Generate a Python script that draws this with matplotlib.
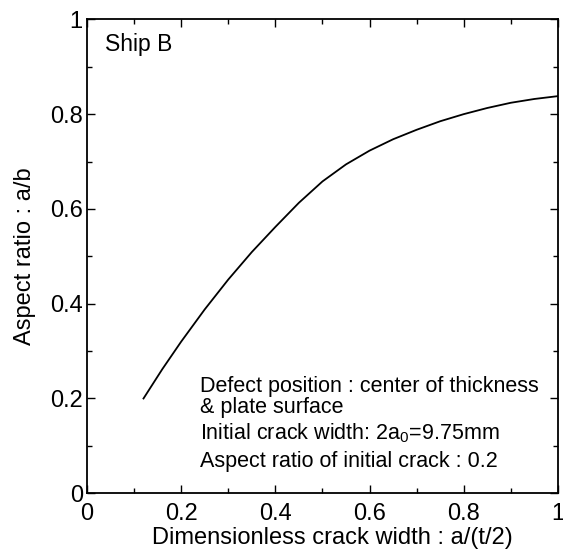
import matplotlib.pyplot as plt
from matplotlib.ticker import MultipleLocator, FuncFormatter

# aspect ratio growth of the crack, Ship B
crack_width = [0.12, 0.16, 0.20, 0.25, 0.30, 0.35, 0.40, 0.45, 0.50, 0.55,
               0.60, 0.65, 0.70, 0.75, 0.80, 0.85, 0.90, 0.95, 1.00]
aspect_ratio = [0.200, 0.262, 0.320, 0.388, 0.451, 0.509, 0.562, 0.613, 0.658, 0.694,
                0.723, 0.747, 0.767, 0.785, 0.800, 0.813, 0.824, 0.832, 0.838]

notes = [
    "Defect position : center of thickness",
    "& plate surface",
    "Initial crack width: 2a$_0$=9.75mm",
    "Aspect ratio of initial crack : 0.2",
]
notes_y = [0.226, 0.180, 0.127, 0.066]

plt.rcParams["font.family"] = ["Liberation Sans", "DejaVu Sans"]
plt.rcParams["mathtext.fontset"] = "custom"
plt.rcParams["mathtext.rm"] = "Liberation Sans"
plt.rcParams["mathtext.it"] = "Liberation Sans"

fig = plt.figure(figsize=(5.63, 5.53), dpi=100)
ax = fig.add_axes([0.1545, 0.108, 0.8365, 0.857])

ax.plot(crack_width, aspect_ratio, color="black", lw=1.3)

ax.set_xlim(0, 1)
ax.set_ylim(0, 1)
for axis in (ax.xaxis, ax.yaxis):
    axis.set_major_locator(MultipleLocator(0.2))
    axis.set_minor_locator(MultipleLocator(0.1))
    axis.set_major_formatter(FuncFormatter(lambda v, p: f"{v:g}"))

ax.tick_params(which="both", direction="in", top=True, right=True,
               labelsize=17, width=1)
ax.tick_params(axis="x", pad=7)
ax.tick_params(axis="y", pad=3)
ax.tick_params(which="major", length=6)
ax.tick_params(which="minor", length=3.5)
for s in ax.spines.values():
    s.set_linewidth(1.3)

ax.set_xlabel("Dimensionless crack width : a/(t/2)", fontsize=17)
ax.xaxis.set_label_coords(0.521, -0.094, transform=ax.transAxes)
ax.xaxis.label.set_va("center")
ax.set_ylabel("Aspect ratio : a/b", fontsize=17, labelpad=10)

ax.text(0.038, 0.946, "Ship B", fontsize=16.5, va="center", ha="left")
for txt, y in zip(notes, notes_y):
    ax.text(0.24, y, txt, fontsize=15.5, va="center", ha="left")

fig.savefig("out.png", dpi=100)
